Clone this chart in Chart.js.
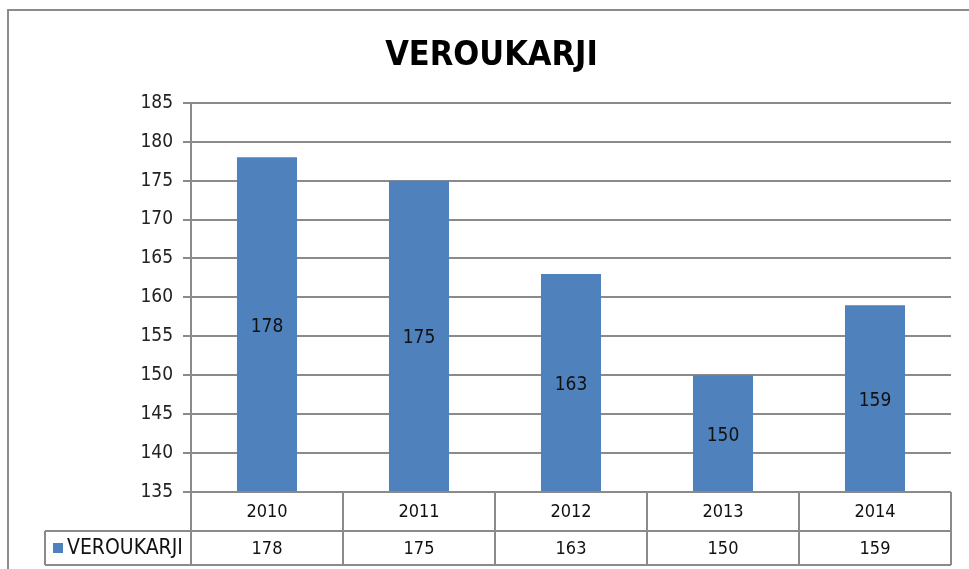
<!DOCTYPE html>
<html>
<head>
<meta charset="utf-8">
<script src="https://cdn.jsdelivr.net/npm/chart.js@4"></script>
<style>
  html, body { margin: 0; padding: 0; background: #fff; }
  #wrap { width: 969px; height: 569px; position: relative; }
</style>
</head>
<body>
<div id="wrap"><canvas id="chart"></canvas></div>
<script>
const years = ["2010", "2011", "2012", "2013", "2014"];
const veroukarji = [178, 175, 163, 150, 159];
const seriesName = "VEROUKARJI";

const FONT = "'Liberation Sans Narrow', 'DejaVu Sans Condensed', sans-serif";
const BLUE = "#4F81BD";
const GRID = "#8a8a8a";

// labels inside bars + data table under the plot, all placed with the chart's scales
const tablePlugin = {
  id: "dataTable",
  afterDatasetsDraw(chart) {
    const ctx = chart.ctx;
    const x = chart.scales.x;
    const y = chart.scales.y;
    const area = chart.chartArea;

    ctx.save();
    ctx.fillStyle = "#111";
    ctx.font = "19px " + FONT;
    ctx.textAlign = "center";
    ctx.textBaseline = "middle";
    veroukarji.forEach((v, i) => {
      const top = y.getPixelForValue(v);
      ctx.fillText(String(v), x.getPixelForValue(i), (top + area.bottom) / 2 + 2);
    });

    const step = x.getPixelForValue(1) - x.getPixelForValue(0);
    const left = area.left, right = area.right;
    const top = area.bottom, mid = top + 39, bottom = top + 73;
    const legendLeft = 45;

    ctx.strokeStyle = GRID;
    ctx.lineWidth = 2;
    ctx.beginPath();
    ctx.moveTo(left, top); ctx.lineTo(right, top);
    ctx.moveTo(legendLeft, mid); ctx.lineTo(right, mid);
    ctx.moveTo(legendLeft, bottom); ctx.lineTo(right, bottom);
    ctx.moveTo(legendLeft, mid); ctx.lineTo(legendLeft, bottom);
    ctx.moveTo(left, top); ctx.lineTo(left, bottom);
    years.forEach((yr, i) => {
      const xr = x.getPixelForValue(i) + step / 2;
      ctx.moveTo(xr, top); ctx.lineTo(xr, bottom);
    });
    ctx.stroke();

    ctx.fillStyle = "#111";
    ctx.font = "18px " + FONT;
    years.forEach((yr, i) => {
      const cx = x.getPixelForValue(i);
      ctx.fillText(yr, cx, (top + mid) / 2 + 1);
      ctx.fillText(String(veroukarji[i]), cx, (mid + bottom) / 2 + 1);
    });

    ctx.fillStyle = BLUE;
    ctx.fillRect(53, (mid + bottom) / 2 - 5, 10, 10);
    ctx.fillStyle = "#111";
    ctx.textAlign = "left";
    ctx.font = "21px " + FONT;
    ctx.fillText(seriesName, 67, (mid + bottom) / 2 + 1);
    ctx.restore();
  },
  beforeDraw(chart) {
    // outer chart frame (top and left edges visible)
    const ctx = chart.ctx;
    ctx.save();
    ctx.strokeStyle = "#8c8c8c";
    ctx.lineWidth = 2;
    ctx.beginPath();
    ctx.moveTo(8, 569); ctx.lineTo(8, 10); ctx.lineTo(969, 10);
    ctx.stroke();
    ctx.restore();
  }
};

new Chart(document.getElementById("chart"), {
  type: "bar",
  data: {
    labels: years,
    datasets: [{
      label: seriesName,
      data: veroukarji,
      backgroundColor: BLUE,
      borderWidth: 0,
      categoryPercentage: 1,
      barPercentage: 0.395
    }]
  },
  options: {
    responsive: true,
    maintainAspectRatio: false,
    animation: false,
    layout: { padding: { top: 26, right: 18, bottom: 4, left: 32 } },
    plugins: {
      legend: { display: false },
      tooltip: { enabled: false },
      title: {
        display: true,
        text: seriesName,
        color: "#000",
        font: { family: FONT, size: 34, weight: "bold" },
        padding: { top: 10, bottom: 26 }
      }
    },
    scales: {
      x: {
        ticks: { display: false },
        grid: { display: false },
        border: { display: false },
        afterFit: s => { s.height = 73; }
      },
      y: {
        min: 135,
        max: 185,
        ticks: { stepSize: 5, color: "#222", font: { family: FONT, size: 19 }, padding: 10 },
        grid: { color: GRID, lineWidth: 2, tickLength: 8, drawTicks: true },
        border: { color: GRID, width: 2 },
        afterFit: s => { s.width = 159; }
      }
    }
  },
  plugins: [tablePlugin]
});
</script>
</body>
</html>
